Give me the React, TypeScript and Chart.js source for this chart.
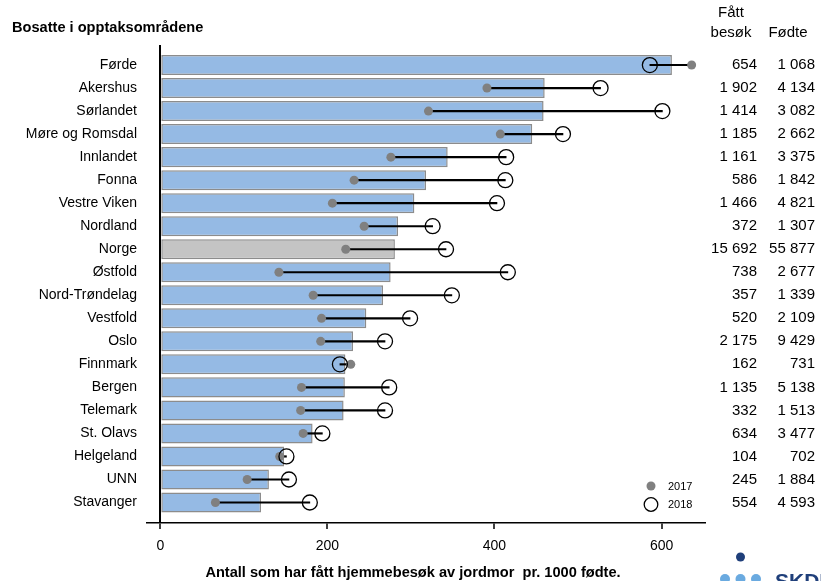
import { useEffect, useRef } from 'react';
import { Chart, registerables } from 'chart.js';

Chart.register(...registerables);

const categories = ['Førde', 'Akershus', 'Sørlandet', 'Møre og Romsdal', 'Innlandet', 'Fonna', 'Vestre Viken', 'Nordland', 'Norge', 'Østfold', 'Nord-Trøndelag', 'Vestfold', 'Oslo', 'Finnmark', 'Bergen', 'Telemark', 'St. Olavs', 'Helgeland', 'UNN', 'Stavanger'];
// Rate for both years together (bars)
const rateBoth = [612.4, 460.1, 458.8, 445.2, 344.0, 318.1, 304.1, 284.6, 280.8, 275.7, 266.6, 246.6, 230.7, 221.6, 220.9, 219.4, 182.3, 148.1, 130.0, 120.6];
const rate2017 = [636, 391, 321, 407, 276, 232, 206, 244, 222, 142, 183, 193, 192, 228, 169, 168, 171, 143, 104, 66];
const rate2018 = [586, 527, 601, 482, 414, 413, 403, 326, 342, 416, 349, 299, 269, 215, 274, 269, 194, 151, 154, 179];
const visited = [654, 1902, 1414, 1185, 1161, 586, 1466, 372, 15692, 738, 357, 520, 2175, 162, 1135, 332, 634, 104, 245, 554];
const births = [1068, 4134, 3082, 2662, 3375, 1842, 4821, 1307, 55877, 2677, 1339, 2109, 9429, 731, 5138, 1513, 3477, 702, 1884, 4593];
const xTicks = [0, 200, 400, 600];
const highlight = 'Norge';
const titleText = 'Bosatte i opptaksområdene';
const axisTitle = 'Antall som har fått hjemmebesøk av jordmor  pr. 1000 fødte.';
const legendLabels = ['2017', '2018'];

const FAM = '"Liberation Sans", Arial, sans-serif';

const fmt = (n: number) => {
  const s = String(n);
  return s.replace(/\B(?=(\d{3})+(?!\d))/g, '\u00a0');
};

const overlay = {
  id: 'overlay',
  afterDraw(chart: any) {
    const { ctx } = chart;
    const y = chart.scales.y;
    ctx.save();
    ctx.fillStyle = '#000';
    ctx.textBaseline = 'middle';
    ctx.textAlign = 'left';
    ctx.font = `bold 14.6px ${FAM}`;
    ctx.fillText(titleText, 12, 28);

    ctx.font = `15px ${FAM}`;
    ctx.textAlign = 'center';
    ctx.fillText('Fått', 731, 13);
    ctx.fillText('besøk', 731, 33);
    ctx.fillText('Fødte', 788, 33);
    ctx.textAlign = 'right';
    categories.forEach((_, i) => {
      const py = y.getPixelForValue(i);
      ctx.fillText(fmt(visited[i]), 757, py);
      ctx.fillText(fmt(births[i]), 815, py);
    });

    // legend
    ctx.beginPath();
    ctx.arc(651, 486, 4.5, 0, Math.PI * 2);
    ctx.fillStyle = '#808080';
    ctx.fill();
    ctx.beginPath();
    ctx.arc(651, 504.5, 6.8, 0, Math.PI * 2);
    ctx.strokeStyle = '#000';
    ctx.lineWidth = 1.3;
    ctx.stroke();
    ctx.fillStyle = '#000';
    ctx.font = `11px ${FAM}`;
    ctx.textAlign = 'left';
    ctx.fillText(legendLabels[0], 668, 487);
    ctx.fillText(legendLabels[1], 668, 505);

    // axis title
    ctx.font = `bold 14.6px ${FAM}`;
    ctx.textAlign = 'center';
    ctx.fillText(axisTitle, 413, 573);

    // logo
    ctx.fillStyle = '#1f3f7a';
    ctx.beginPath();
    ctx.arc(740.5, 557, 4.5, 0, Math.PI * 2);
    ctx.fill();
    ctx.fillStyle = '#6aaae0';
    [725, 740.5, 756].forEach((cx) => {
      ctx.beginPath();
      ctx.arc(cx, 579, 5, 0, Math.PI * 2);
      ctx.fill();
    });
    ctx.fillStyle = '#1f3f7a';
    ctx.font = `bold 21px ${FAM}`;
    ctx.textAlign = 'left';
    ctx.textBaseline = 'alphabetic';
    ctx.fillText('SKDE', 775, 588);
    ctx.restore();
  },
};

export default function App() {
  const ref = useRef<HTMLCanvasElement>(null);
  useEffect(() => {
    document.body.style.margin = '0';
    document.body.style.overflow = 'hidden';
    const chart = new Chart(ref.current as HTMLCanvasElement, {
      type: 'bar',
      data: {
        datasets: [
          {
            type: 'line',
            label: legendLabels[1],
            indexAxis: 'y',
            data: rate2018.map((v, i) => ({ x: v, y: i })),
            showLine: false,
            pointRadius: 7.5,
            pointBorderColor: '#000',
            pointBackgroundColor: 'rgba(0,0,0,0)',
            pointBorderWidth: 1.3,
            order: 1,
          } as any,
          {
            type: 'line',
            label: legendLabels[0],
            indexAxis: 'y',
            data: rate2017.map((v, i) => ({ x: v, y: i })),
            showLine: false,
            pointRadius: 4.5,
            pointBorderWidth: 0,
            pointBackgroundColor: '#808080',
            pointBorderColor: '#808080',
            order: 2,
          } as any,
          {
            type: 'bar',
            label: 'endring',
            data: rate2017.map((v, i) => ({ x: [v, rate2018[i]], y: i })),
            backgroundColor: '#000',
            barThickness: 1.5,
            grouped: false,
            order: 3,
          } as any,
          {
            type: 'bar',
            label: '2017-2018',
            data: rateBoth.map((v, i) => ({ x: v, y: i })),
            backgroundColor: categories.map((c) => (c === highlight ? '#c4c4c4' : '#95bae4')),
            borderColor: '#8c8c8c',
            borderWidth: 1.5,
            borderSkipped: false,
            categoryPercentage: 1,
            barPercentage: 0.87,
            grouped: false,
            order: 4,
          } as any,
        ],
      },
      options: {
        indexAxis: 'y',
        responsive: false,
        animation: false,
        layout: { padding: { top: 45, right: 116, left: 0, bottom: 0 } },
        plugins: { legend: { display: false }, tooltip: { enabled: false } },
        scales: {
          x: {
            type: 'linear',
            position: 'bottom',
            bounds: 'data',
            min: -15.9,
            max: 652,
            z: 1,
            afterBuildTicks: (s: any) => {
              s.ticks = xTicks.map((v) => ({ value: v }));
            },
            afterFit: (s: any) => {
              s.height = 58;
              s.paddingLeft = 0;
              s.paddingRight = 0;
            },
            ticks: { font: { size: 14, family: FAM }, color: '#000', padding: 9 },
            grid: {
              color: (c: any) => (c.tick && c.tick.value === 0 ? '#000' : 'rgba(0,0,0,0)'),
              lineWidth: 2,
              tickColor: '#000',
              tickWidth: 1.5,
              tickLength: 6,
              drawTicks: true,
            },
            border: { display: true, color: '#000', width: 1.5 },
          },
          y: {
            type: 'linear',
            position: 'left',
            bounds: 'data',
            offset: false,
            reverse: true,
            min: -0.87,
            max: 19.89,
            afterBuildTicks: (s: any) => {
              s.ticks = categories.map((_, i) => ({ value: i }));
            },
            afterFit: (s: any) => {
              s.width = 147;
              s.paddingTop = 0;
              s.paddingBottom = 0;
            },
            ticks: {
              callback: (v: any) => categories[Math.round(Number(v))],
              font: { size: 14, family: FAM },
              color: '#000',
              padding: 10,
              autoSkip: false,
            },
            grid: { display: false, drawTicks: false, offset: false },
            border: { display: false },
          },
        },
      } as any,
      plugins: [overlay],
    });
    return () => chart.destroy();
  }, []);
  return (
    <div style={{ width: 821, height: 581, position: 'relative', background: '#fff' }}>
      <canvas ref={ref} width={821} height={581} style={{ display: 'block' }} />
    </div>
  );
}
